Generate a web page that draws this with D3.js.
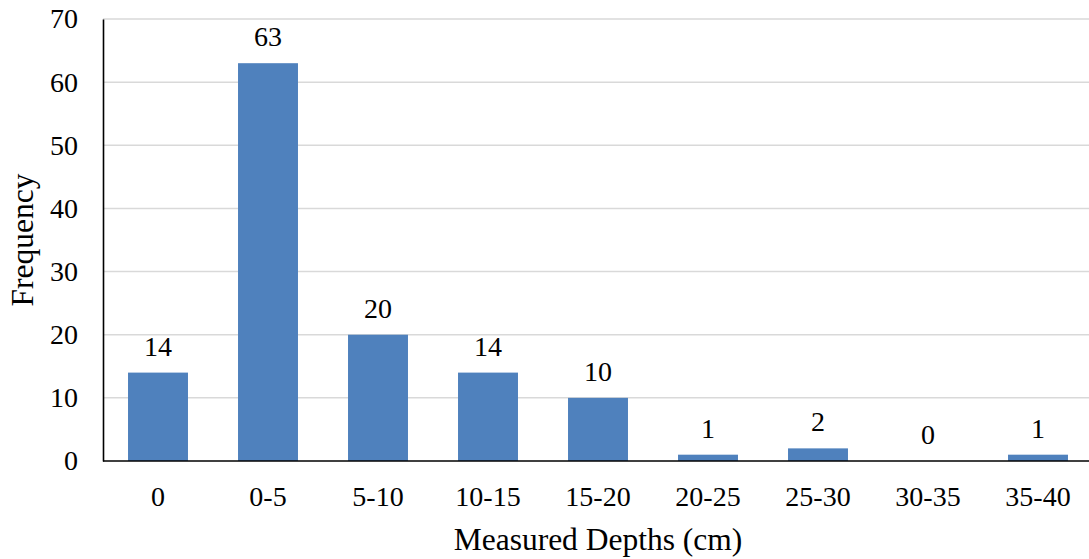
<!DOCTYPE html>
<html>
<head>
<meta charset="utf-8">
<script src="https://cdn.jsdelivr.net/npm/d3@7"></script>
<style>
  body { margin: 0; background: #fff; }
  svg text { font-family: "Liberation Serif", "Times New Roman", serif !important; fill: #000; }
</style>
</head>
<body>
<div id="container"></div>
<script>
"use strict";

// depth classes and counts
const depthBins = ["0", "0-5", "5-10", "10-15", "15-20", "20-25", "25-30", "30-35", "35-40"];
const frequencies = [14, 63, 20, 14, 10, 1, 2, 0, 1];
const yTicks = [0, 10, 20, 30, 40, 50, 60, 70];

const W = 1089, H = 559;
var margin = { top: 19, right: -4, bottom: 98, left: 103 },
  width = W - margin.left - margin.right,
  height = H - margin.top - margin.bottom;

var svg = d3
  .select("#container")
  .append("svg")
  .attr("width", W)
  .attr("height", H);

var g = svg.append("g")
  .attr("transform", "translate(" + margin.left + "," + margin.top + ")");

// set the ranges
var x = d3.scaleBand().domain(depthBins).range([0, width]).paddingInner(0.455).paddingOuter(0.2275);
var y = d3.scaleLinear().domain([0, 70]).range([height, 0]);

// gridlines
g.selectAll(".grid")
  .data(yTicks.filter(function (d) { return d > 0; }))
  .enter()
  .append("line")
  .attr("x1", 0)
  .attr("x2", W - margin.left)
  .attr("y1", function (d) { return y(d); })
  .attr("y2", function (d) { return y(d); })
  .attr("stroke", "#d9d9d9")
  .attr("stroke-width", 1.5);

// bars
g.selectAll(".bar")
  .data(frequencies)
  .enter()
  .append("rect")
  .attr("class", "bar")
  .attr("x", function (d, i) { return x(depthBins[i]); })
  .attr("width", x.bandwidth())
  .attr("y", function (d) { return y(d); })
  .attr("height", function (d) { return height - y(d); })
  .attr("fill", "#4f81bd");

// value labels
g.selectAll(".lbl")
  .data(frequencies)
  .enter()
  .append("text")
  .attr("x", function (d, i) { return x(depthBins[i]) + x.bandwidth() / 2; })
  .attr("y", function (d) { return y(d) - 17; })
  .attr("text-anchor", "middle")
  .style("font-size", "28px")
  .text(function (d) { return d; });

// y axis (no ticks, just labels)
var yAxis = g.append("g")
  .attr("font-family", null)
  .call(d3.axisLeft(y).tickValues(yTicks).tickSize(0).tickPadding(25));
yAxis.attr("font-family", null);
yAxis.select(".domain").attr("stroke", "#000").attr("stroke-width", 1.6);
yAxis.selectAll("text").style("font-size", "28px");

// x axis
var xAxis = g.append("g")
  .attr("transform", "translate(0," + height + ")")
  .call(d3.axisBottom(x).tickSize(0).tickPadding(25));
xAxis.attr("font-family", null);
xAxis.select(".domain").attr("stroke", "#000").attr("stroke-width", 1.6)
  .attr("d", "M0,0H" + (W - margin.left));
xAxis.selectAll("text").style("font-size", "28px");

// axis titles
svg.append("text")
  .attr("x", (margin.left + W) / 2 + 2)
  .attr("y", 550)
  .attr("text-anchor", "middle")
  .style("font-size", "31.5px")
  .text("Measured Depths (cm)");

svg.append("text")
  .attr("transform", "translate(33,240) rotate(-90)")
  .attr("text-anchor", "middle")
  .style("font-size", "31.5px")
  .text("Frequency");
</script>
</body>
</html>
